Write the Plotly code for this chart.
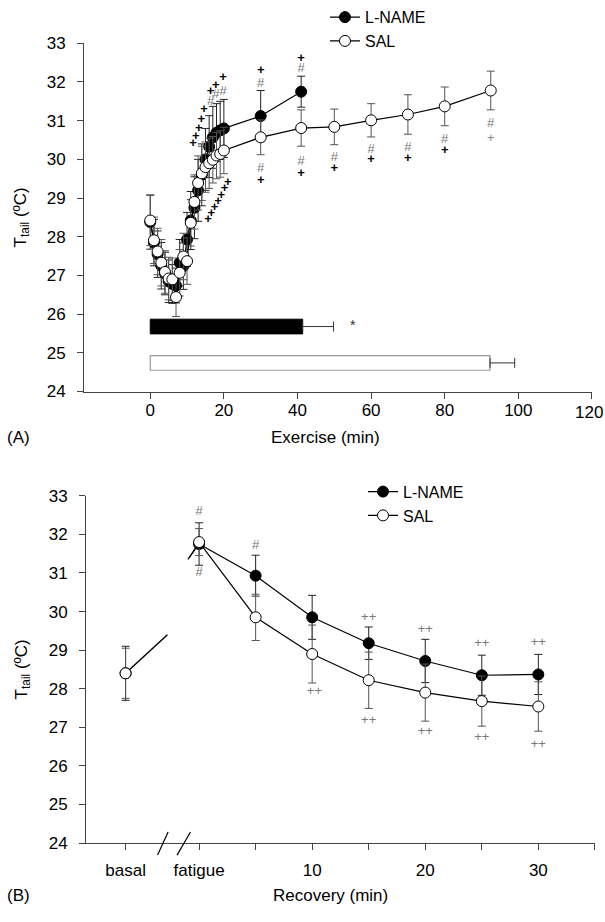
import plotly.graph_objects as go

# ---------------- Panel A: exercise ----------------
A_T_EARLY = list(range(0, 21))
A_LN_EARLY = [28.38, 27.85, 27.55, 27.25, 27.05, 26.85, 26.78, 26.74, 27.33, 27.24, 27.93,
              28.42, 28.75, 29.2, 29.6, 30.0, 30.33, 30.57, 30.69, 30.75, 30.8]
A_LN_EARLY_ERR = [0.7, 0.6, 0.6, 0.6, 0.55, 0.55, 0.5, 0.45, 0.6, 0.6, 0.7,
                  0.75, 0.8, 0.8, 0.8, 0.8, 0.8, 0.8, 0.75, 0.75, 0.75]
A_SAL_EARLY = [28.42, 27.91, 27.62, 27.33, 27.09, 26.92, 26.9, 26.44, 27.07, 27.49, 27.37,
               28.36, 28.9, 29.39, 29.64, 29.8, 29.9, 29.99, 30.1, 30.14, 30.23]
A_SAL_EARLY_ERR = [0.65, 0.6, 0.6, 0.6, 0.55, 0.55, 0.55, 0.5, 0.6, 0.6, 0.6,
                   0.6, 0.7, 0.7, 0.7, 0.65, 0.65, 0.6, 0.6, 0.6, 0.6]

A_T_LN_LATE = [30, 41]
A_LN_LATE = [31.12, 31.75]
A_LN_LATE_ERR = [0.66, 0.4]
A_T_SAL_LATE = [30, 41, 50, 60, 70, 80, 92.5]
A_SAL_LATE = [30.57, 30.81, 30.84, 31.01, 31.16, 31.37, 31.78]
A_SAL_LATE_ERR = [0.45, 0.47, 0.46, 0.43, 0.51, 0.5, 0.5]

A_TICKVALS = [0, 20, 40, 60, 80, 100, 120]
A_TICKTEXT = ["0", "20", "40", "60", "80", "100", ""]   # "120" drawn as edge annotation below
A_LAST_TICK_LABEL = "120"

# time to fatigue (min)
FATIGUE_GROUPS = ["L-NAME", "SAL"]
FATIGUE_MEAN = [41.4, 92.3]
FATIGUE_SEM = [8.4, 6.7]

# significance symbols, panel A (time, temperature)
A_PLUS_BLACK = [(11.6, 30.4), (12.4, 30.58), (13.2, 30.78), (13.9, 31.03), (14.6, 31.28),
                (16.4, 31.76), (17.8, 31.91), (19.8, 32.1),
                (15.7, 28.44), (16.6, 28.59), (17.5, 28.75), (18.4, 28.91), (19.3, 29.07),
                (20.2, 29.24), (21.1, 29.39),
                (30, 32.3), (41, 32.6),
                (30, 29.45), (41, 29.64), (50, 29.77), (60, 29.98), (70, 30.02), (80, 30.23)]
A_PLUS_GRAY = [(92.5, 30.54)]
A_HASH = [(16.4, 31.49), (17.8, 31.66), (19.8, 31.76),
          (30, 31.95), (41, 32.33),
          (30, 29.77), (41, 29.93), (50, 30.04), (60, 30.25), (70, 30.31), (80, 30.52),
          (92.5, 30.93)]
A_STAR = [(55, 25.68)]

# ---------------- Panel B: recovery ----------------
B_TICKVALS = [-6.5, 0, 5, 10, 15, 20, 25, 30, 35]
B_TICKTEXT = ["basal", "fatigue", "", "10", "", "20", "", "30", ""]
B_BASAL_X = -6.5
B_BASAL_VAL = 28.4
B_BASAL_ERR = 0.65
B_T = [0, 5, 10, 15, 20, 25, 30]
B_LN = [31.75, 30.93, 29.85, 29.18, 28.72, 28.35, 28.37]
B_LN_ERR = [0.55, 0.53, 0.57, 0.42, 0.56, 0.52, 0.52]
B_SAL = [31.8, 29.85, 28.9, 28.22, 27.9, 27.68, 27.54]
B_SAL_ERR = [0.35, 0.6, 0.75, 0.73, 0.74, 0.65, 0.64]

B_HASH = [(0, 32.58), (0, 31.0), (5, 31.7)]
B_PLUSPLUS = [(15, 29.83), (20, 29.54), (25, 29.17), (30, 29.18),
              (10.2, 27.92), (15, 27.17), (20, 26.88), (25, 26.73), (30, 26.55)]

FONT = "Liberation Sans, Arial, sans-serif"
W, H = 605, 922
XA = (-18, 120.01)
XB = (-10, 35.01)
YR = (24, 33.001)

fig = go.Figure()


def series(x, y, err, name, filled, xa, ya, legend, errcolor):
    fig.add_trace(go.Scatter(
        x=x, y=y, mode="lines+markers", name=name,
        xaxis=xa, yaxis=ya, legend=legend,
        line=dict(color="black", width=1.2),
        marker=dict(symbol="circle", size=11,
                    color="black" if filled else "white",
                    line=dict(color="black", width=1)),
        error_y=dict(type="data", array=err, color=errcolor, thickness=1, width=4),
        cliponaxis=False,
    ))


def symbols(pts, text, color, size, xa, ya):
    fig.add_trace(go.Scatter(
        x=[p[0] for p in pts], y=[p[1] for p in pts], mode="text",
        text=[text] * len(pts), textposition="middle center",
        textfont=dict(family=FONT, size=size, color=color),
        xaxis=xa, yaxis=ya, showlegend=False, hoverinfo="skip", cliponaxis=False,
    ))


# Panel A bars (time to fatigue)
BAR_Y = [25.68, 24.74]
fig.add_trace(go.Bar(x=[FATIGUE_MEAN[0]], y=[BAR_Y[0]], orientation="h", width=0.38,
                     marker=dict(color="black", line=dict(color="black", width=1)),
                     error_x=dict(type="data", array=[FATIGUE_SEM[0]], arrayminus=[0], symmetric=False,
                                  color="#333", thickness=1, width=5),
                     xaxis="x", yaxis="y", showlegend=False, name=FATIGUE_GROUPS[0]))
fig.add_trace(go.Bar(x=[FATIGUE_MEAN[1]], y=[BAR_Y[1]], orientation="h", width=0.38,
                     marker=dict(color="white", line=dict(color="#999", width=1.2)),
                     error_x=dict(type="data", array=[FATIGUE_SEM[1]], arrayminus=[0], symmetric=False,
                                  color="#333", thickness=1, width=5),
                     xaxis="x", yaxis="y", showlegend=False, name=FATIGUE_GROUPS[1]))

series(A_T_EARLY + A_T_LN_LATE, A_LN_EARLY + A_LN_LATE, A_LN_EARLY_ERR + A_LN_LATE_ERR,
       "L-NAME", True, "x", "y", "legend", "#222")
series(A_T_EARLY + A_T_SAL_LATE, A_SAL_EARLY + A_SAL_LATE, A_SAL_EARLY_ERR + A_SAL_LATE_ERR,
       "SAL", False, "x", "y", "legend", "#555")

symbols(A_PLUS_BLACK, "<b>+</b>", "black", 13, "x", "y")
symbols(A_PLUS_GRAY, "+", "#888", 13, "x", "y")
symbols(A_HASH, "#", "#777", 13, "x", "y")
symbols(A_STAR, "*", "#333", 14, "x", "y")

# Panel B: broken connections between basal and fatigue
fig.add_trace(go.Scatter(x=[B_BASAL_X, B_BASAL_X + 3.7], y=[B_BASAL_VAL, B_BASAL_VAL + 1.0],
                         mode="lines", line=dict(color="black", width=1.5),
                         xaxis="x2", yaxis="y2", showlegend=False, hoverinfo="skip"))
for v, dx in ((B_LN[0], 0.0), (B_SAL[0], 0.15)):
    fig.add_trace(go.Scatter(x=[-1.0 + dx, 0], y=[v - 0.4, v],
                             mode="lines", line=dict(color="black", width=1.2),
                             xaxis="x2", yaxis="y2", showlegend=False, hoverinfo="skip"))

series([B_BASAL_X], [B_BASAL_VAL], [B_BASAL_ERR + 0.05], "L-NAME", True, "x2", "y2", "legend2", "#222")
fig.data[-1].showlegend = False
series(B_T, B_LN, B_LN_ERR, "L-NAME", True, "x2", "y2", "legend2", "#222")
series([B_BASAL_X], [B_BASAL_VAL], [B_BASAL_ERR], "SAL", False, "x2", "y2", "legend2", "#555")
fig.data[-1].showlegend = False
series(B_T, B_SAL, B_SAL_ERR, "SAL", False, "x2", "y2", "legend2", "#555")

symbols(B_HASH, "#", "#777", 13, "x2", "y2")
symbols(B_PLUSPLUS, "++", "#777", 13, "x2", "y2")


def dom(v, r):
    return (v - r[0]) / (r[1] - r[0])


# axis break marks on panel B x-axis
for x0, x1 in ((-3.67, -2.74), (-1.95, -0.76)):
    fig.add_shape(type="line", xref="x2 domain", yref="y2 domain",
                  x0=dom(x0, XB), x1=dom(x1, XB), y0=dom(23.69, YR), y1=dom(24.29, YR),
                  line=dict(color="black", width=1.2))

axis_common = dict(showline=True, linecolor="#444", linewidth=1, ticks="outside", ticklen=6,
                   tickcolor="#444", showgrid=False, zeroline=False,
                   tickfont=dict(family=FONT, size=17, color="black"))

fig.update_layout(
    width=W, height=H, margin=dict(l=0, r=0, t=0, b=0),
    plot_bgcolor="white", paper_bgcolor="white", barmode="overlay",
    font=dict(family=FONT, size=17, color="black"),
    xaxis=dict(domain=[84 / W, 592 / W], range=list(XA), tickvals=A_TICKVALS, ticktext=A_TICKTEXT,
               anchor="y", ticklabelstandoff=-3, **axis_common),
    yaxis=dict(domain=[1 - 390 / H, 1 - 34 / H], range=list(YR), dtick=1, anchor="x",
               ticklabelstandoff=8, **axis_common),
    xaxis2=dict(domain=[86 / W, 595 / W], range=list(XB), tickvals=B_TICKVALS, ticktext=B_TICKTEXT,
                anchor="y2", ticklabelstandoff=5, **axis_common),
    yaxis2=dict(domain=[1 - 851.6 / H, 1 - 496.5 / H], range=list(YR), dtick=1, anchor="x2",
                ticklabelstandoff=8, **axis_common),
    legend=dict(x=325 / W, y=1 + 10 / H, xanchor="left", yanchor="top", bgcolor="rgba(0,0,0,0)",
                font=dict(family=FONT, size=16), tracegroupgap=0),
    legend2=dict(x=363 / W, y=1 - 475 / H, xanchor="left", yanchor="top", bgcolor="rgba(0,0,0,0)",
                 font=dict(family=FONT, size=16), tracegroupgap=0),
    showlegend=True,
)

ann = [
    dict(text="T<sub>tail</sub> (ºC)", x=22 / W, y=1 - 212 / H, textangle=-90),
    dict(text="T<sub>tail</sub> (ºC)", x=23 / W, y=1 - 674 / H, textangle=-90),
    dict(text="Exercise (min)", x=325 / W, y=1 - 437 / H),
    dict(text="(A)", x=18 / W, y=1 - 437 / H),
    dict(text="Recovery (min)", x=330 / W, y=1 - 905 / H),
    dict(text="(B)", x=18 / W, y=1 - 905 / H),
]
for a in ann:
    fig.add_annotation(xref="paper", yref="paper", showarrow=False, xanchor="center", yanchor="middle",
                       font=dict(family=FONT, size=17, color="black"), **a)

# last x tick label of panel A, kept inside the page's right edge
fig.add_annotation(xref="paper", yref="paper", x=1.0, y=1 - 411 / H, text=A_LAST_TICK_LABEL,
                   showarrow=False, xanchor="right", yanchor="middle",
                   font=dict(family=FONT, size=17, color="black"))

fig.write_html("out.html")
